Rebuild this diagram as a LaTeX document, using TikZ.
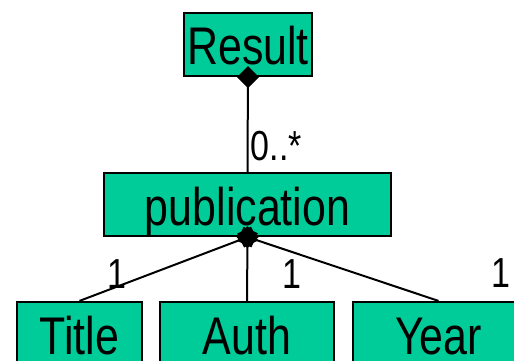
\documentclass[tikz,border=0pt]{standalone}
\usepackage{fontspec}
\setmainfont{Liberation Sans}
\usetikzlibrary{arrows.meta,calc}
\definecolor{boxfill}{RGB}{0,204,153}
\tikzset{
  umlbox/.style={draw=black, fill=boxfill, line width=2.2pt, inner sep=0pt,
    text height=52pt, text depth=11pt, anchor=center,
    font=\fontsize{53}{60}\selectfont},
  comp/.style={draw=black, line width=2pt,
    arrows={Diamond[length=22pt,width=22pt]-}},
  mult/.style={inner sep=0pt, anchor=base, font=\fontsize{42}{48}\selectfont}
}
\newcommand{\nar}[1]{\scalebox{0.81}[1]{#1}}
\begin{document}
\begin{tikzpicture}[x=1pt,y=-1pt]
\useasboundingbox (0,0) rectangle (514,361);
\clip (0,0) rectangle (514,361);
\node[umlbox, minimum width=128pt] (res) at (248,44.5) {\nar{Result}};
\node[umlbox, minimum width=287pt] (pub) at (247.5,204.5) {\nar{publication}};
\node[umlbox, minimum width=125pt] (title) at (79.5,333.5) {\nar{Title}};
\node[umlbox, minimum width=174pt] (auth) at (247,333.5) {\nar{Auth}};
\node[umlbox, minimum width=171pt] (year) at (438.5,333.5) {\nar{Year}};
\coordinate (pc) at (pub.south);
\draw[comp] ([yshift=11pt]res.south) -- (pub.north);
\draw[comp] ($(pc)!-11pt!(title.north)$) -- (title.north);
\draw[comp] ($(pc)!-11pt!(auth.north)$) -- (auth.north);
\draw[comp] ($(pc)!-11pt!(year.north)$) -- (year.north);
\node[mult, anchor=base west] (m0) at (250.5,160) {\nar{0..*}};
\node[mult] (m1) at (117,288) {\nar{1}};
\node[mult] (m2) at (292,288) {\nar{1}};
\node[mult] (m3) at (501,287) {\nar{1}};
\end{tikzpicture}
\end{document}
